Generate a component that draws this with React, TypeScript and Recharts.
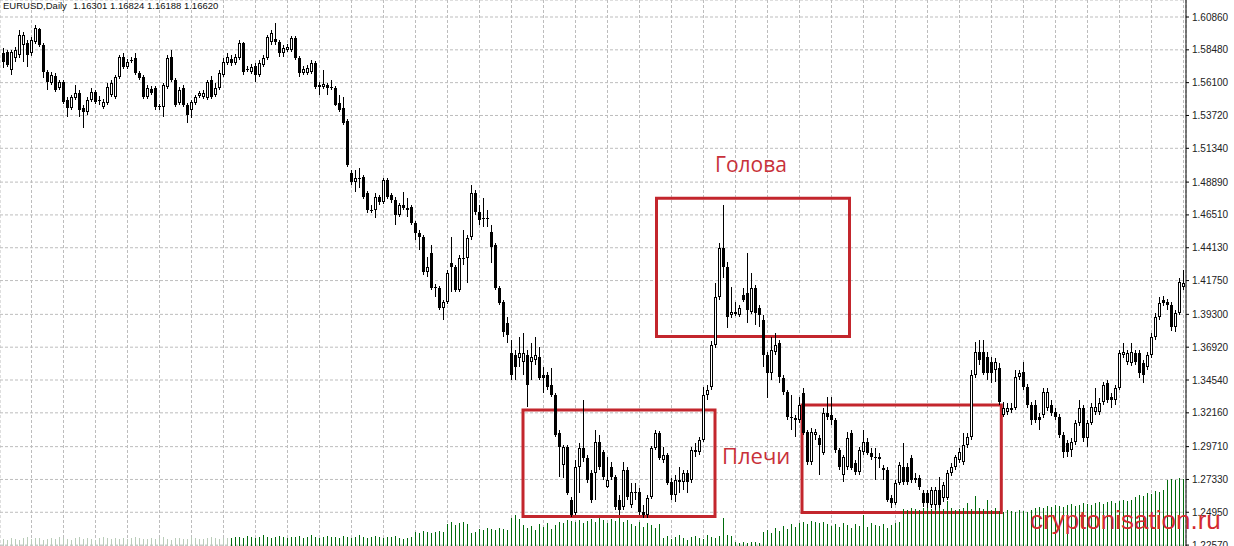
import { ComposedChart, Bar, XAxis, YAxis, CartesianGrid, ReferenceArea } from "recharts"

// EURUSD daily candles (oldest first)
const opens = [
  1.5825, 1.5832, 1.5702, 1.5789, 1.5810, 1.5883, 1.5897, 1.5825, 1.5905, 1.5999,
  1.5883, 1.5687, 1.5607, 1.5658, 1.5571, 1.5615, 1.5484, 1.5426, 1.5499, 1.5535,
  1.5426, 1.5397, 1.5484, 1.5542, 1.5484, 1.5433, 1.5462, 1.5520, 1.5506, 1.5651,
  1.5796, 1.5723, 1.5774, 1.5789, 1.5680, 1.5651, 1.5506, 1.5564, 1.5571, 1.5441,
  1.5433, 1.5578, 1.5796, 1.5629, 1.5462, 1.5571, 1.5448, 1.5412, 1.5462, 1.5513,
  1.5506, 1.5499, 1.5629, 1.5520, 1.5571, 1.5665, 1.5752, 1.5781, 1.5752, 1.5789,
  1.5897, 1.5709, 1.5687, 1.5731, 1.5665, 1.5738, 1.5789, 1.5905, 1.5926, 1.5905,
  1.5825, 1.5847, 1.5847, 1.5934, 1.5789, 1.5680, 1.5680, 1.5687, 1.5752, 1.5593,
  1.5578, 1.5593, 1.5578, 1.5571, 1.5462, 1.5426, 1.5332, 1.4955, 1.4890, 1.4919,
  1.4926, 1.4810, 1.4687, 1.4687, 1.4781, 1.4745, 1.4904, 1.4795, 1.4759, 1.4650,
  1.4723, 1.4701, 1.4708, 1.4592, 1.4520, 1.4491, 1.4237, 1.4375, 1.4128, 1.4121,
  1.3976, 1.4020, 1.4302, 1.4273, 1.4107, 1.4339, 1.4339, 1.4491, 1.4810, 1.4672,
  1.4629, 1.4629, 1.4527, 1.4433, 1.4121, 1.4020, 1.3867, 1.3650, 1.3635, 1.3614,
  1.3585, 1.3635, 1.3585, 1.3599, 1.3621, 1.3490, 1.3490, 1.3418, 1.3345, 1.3070,
  1.2838, 1.2968, 1.2584, 1.2490, 1.2823, 1.2961, 1.2889, 1.2780, 1.2780, 1.3005,
  1.2932, 1.2678, 1.2823, 1.2751, 1.2584, 1.2533, 1.2802, 1.2548, 1.2642, 1.2642,
  1.2497, 1.2475, 1.2606, 1.2961, 1.3070, 1.2874, 1.2910, 1.2715, 1.2620, 1.2729,
  1.2715, 1.2780, 1.2729, 1.2932, 1.2932, 1.3019, 1.3345, 1.3403, 1.3708, 1.4056,
  1.4411, 1.4273, 1.3925, 1.3940, 1.3925, 1.4070, 1.4085, 1.3947, 1.4121, 1.3976,
  1.3889, 1.3635, 1.3505, 1.3657, 1.3722, 1.3469, 1.3367, 1.3186, 1.3179, 1.3164,
  1.3360, 1.3077, 1.2860, 1.3055, 1.3034, 1.2925, 1.3215, 1.3200, 1.3164, 1.2947,
  1.2765, 1.2823, 1.3070, 1.2852, 1.2787, 1.2932, 1.3005, 1.2925, 1.2896, 1.2896,
  1.2816, 1.2802, 1.2599, 1.2562, 1.2707, 1.2823, 1.2823, 1.2889, 1.2744, 1.2744,
  1.2635, 1.2635, 1.2548, 1.2548, 1.2657, 1.2599, 1.2599, 1.2780, 1.2823, 1.2874,
  1.2860, 1.2983, 1.3041, 1.3490, 1.3657, 1.3657, 1.3621, 1.3585, 1.3527, 1.3541,
  1.3200, 1.3222, 1.3251, 1.3251, 1.3476, 1.3512, 1.3403, 1.3273, 1.3273, 1.3186,
  1.3200, 1.3251, 1.3273, 1.3222, 1.3186, 1.3055, 1.2997, 1.2947, 1.3005, 1.3142,
  1.3251, 1.3034, 1.3142, 1.3222, 1.3222, 1.3295, 1.3432, 1.3331, 1.3309, 1.3396,
  1.3635, 1.3585, 1.3577, 1.3650, 1.3650, 1.3577, 1.3548, 1.3635, 1.3766, 1.3911,
  1.4034, 1.4020, 1.3998, 1.3838, 1.3940, 1.4128,
]

const highs = [
  1.5861, 1.5847, 1.5847, 1.5868, 1.5992, 1.5977, 1.5919, 1.5941, 1.6028, 1.6006,
  1.5897, 1.5702, 1.5687, 1.5680, 1.5629, 1.5629, 1.5506, 1.5520, 1.5593, 1.5557,
  1.5448, 1.5506, 1.5571, 1.5557, 1.5513, 1.5491, 1.5607, 1.5629, 1.5665, 1.5810,
  1.5825, 1.5781, 1.5796, 1.5825, 1.5694, 1.5665, 1.5593, 1.5586, 1.5586, 1.5455,
  1.5607, 1.5810, 1.5847, 1.5644, 1.5578, 1.5593, 1.5462, 1.5484, 1.5520, 1.5549,
  1.5557, 1.5629, 1.5658, 1.5607, 1.5702, 1.5789, 1.5825, 1.5810, 1.5818, 1.5919,
  1.5905, 1.5731, 1.5745, 1.5752, 1.5774, 1.5810, 1.5955, 1.5992, 1.6042, 1.5919,
  1.5883, 1.5890, 1.5948, 1.5948, 1.5803, 1.5731, 1.5738, 1.5774, 1.5767, 1.5615,
  1.5702, 1.5607, 1.5629, 1.5586, 1.5520, 1.5506, 1.5346, 1.4977, 1.4977, 1.4991,
  1.4940, 1.4824, 1.4723, 1.4810, 1.4795, 1.4919, 1.4919, 1.4810, 1.4781, 1.4737,
  1.4817, 1.4774, 1.4723, 1.4607, 1.4542, 1.4505, 1.4346, 1.4433, 1.4150, 1.4136,
  1.4034, 1.4252, 1.4491, 1.4288, 1.4360, 1.4542, 1.4505, 1.4868, 1.4832, 1.4723,
  1.4774, 1.4687, 1.4578, 1.4447, 1.4136, 1.4034, 1.3911, 1.3744, 1.3672, 1.3766,
  1.3795, 1.3672, 1.3722, 1.3766, 1.3693, 1.3548, 1.3512, 1.3541, 1.3360, 1.3092,
  1.2983, 1.2983, 1.2606, 1.2874, 1.2997, 1.3309, 1.2910, 1.2802, 1.3092, 1.3055,
  1.2947, 1.2896, 1.2860, 1.2765, 1.2620, 1.2860, 1.2823, 1.2707, 1.2707, 1.2671,
  1.2548, 1.2620, 1.2976, 1.3092, 1.3084, 1.2968, 1.2925, 1.2744, 1.2765, 1.2823,
  1.2802, 1.2802, 1.2968, 1.2997, 1.3041, 1.3403, 1.3418, 1.3737, 1.4157, 1.4447,
  1.4723, 1.4310, 1.4128, 1.4020, 1.3998, 1.4121, 1.4375, 1.4230, 1.4143, 1.3998,
  1.3925, 1.3657, 1.3766, 1.3795, 1.3744, 1.3490, 1.3382, 1.3345, 1.3200, 1.3331,
  1.3396, 1.3092, 1.3106, 1.3099, 1.3055, 1.3251, 1.3331, 1.3331, 1.3179, 1.2961,
  1.2910, 1.3077, 1.3092, 1.2874, 1.2968, 1.3092, 1.3034, 1.2961, 1.2961, 1.2925,
  1.2838, 1.2823, 1.2620, 1.2729, 1.2860, 1.2997, 1.2852, 1.2910, 1.2780, 1.2765,
  1.2657, 1.2657, 1.2678, 1.2678, 1.2751, 1.2715, 1.2802, 1.2852, 1.2910, 1.2961,
  1.3070, 1.3070, 1.3527, 1.3730, 1.3744, 1.3744, 1.3657, 1.3621, 1.3614, 1.3577,
  1.3295, 1.3287, 1.3287, 1.3527, 1.3527, 1.3585, 1.3425, 1.3295, 1.3309, 1.3215,
  1.3396, 1.3396, 1.3309, 1.3251, 1.3208, 1.3077, 1.3019, 1.3034, 1.3164, 1.3309,
  1.3273, 1.3164, 1.3287, 1.3396, 1.3324, 1.3440, 1.3454, 1.3360, 1.3418, 1.3672,
  1.3722, 1.3672, 1.3722, 1.3672, 1.3672, 1.3599, 1.3657, 1.3795, 1.3940, 1.4056,
  1.4063, 1.4041, 1.4020, 1.3962, 1.4194, 1.4252,
]

const lows = [
  1.5716, 1.5723, 1.5665, 1.5760, 1.5789, 1.5760, 1.5723, 1.5803, 1.5890, 1.5868,
  1.5644, 1.5557, 1.5593, 1.5542, 1.5557, 1.5455, 1.5361, 1.5412, 1.5484, 1.5361,
  1.5281, 1.5375, 1.5470, 1.5455, 1.5448, 1.5419, 1.5448, 1.5506, 1.5491, 1.5636,
  1.5709, 1.5709, 1.5752, 1.5665, 1.5629, 1.5491, 1.5491, 1.5520, 1.5412, 1.5412,
  1.5361, 1.5564, 1.5615, 1.5433, 1.5448, 1.5433, 1.5317, 1.5354, 1.5448, 1.5499,
  1.5491, 1.5484, 1.5491, 1.5506, 1.5557, 1.5651, 1.5738, 1.5731, 1.5738, 1.5774,
  1.5665, 1.5687, 1.5673, 1.5615, 1.5651, 1.5723, 1.5774, 1.5883, 1.5883, 1.5796,
  1.5796, 1.5832, 1.5832, 1.5774, 1.5651, 1.5665, 1.5665, 1.5673, 1.5564, 1.5520,
  1.5564, 1.5520, 1.5557, 1.5441, 1.5397, 1.5303, 1.4998, 1.4868, 1.4817, 1.4846,
  1.4766, 1.4665, 1.4665, 1.4629, 1.4723, 1.4730, 1.4766, 1.4737, 1.4578, 1.4636,
  1.4687, 1.4636, 1.4578, 1.4469, 1.4397, 1.4215, 1.4201, 1.4107, 1.4056, 1.3962,
  1.3889, 1.4005, 1.4092, 1.4092, 1.4092, 1.4288, 1.4157, 1.4469, 1.4650, 1.4578,
  1.4563, 1.4563, 1.4302, 1.4107, 1.3998, 1.3766, 1.3722, 1.3454, 1.3454, 1.3548,
  1.3490, 1.3258, 1.3454, 1.3563, 1.3454, 1.3360, 1.3382, 1.3331, 1.3041, 1.2751,
  1.2744, 1.2620, 1.2461, 1.2475, 1.2635, 1.2860, 1.2707, 1.2562, 1.2584, 1.2802,
  1.2729, 1.2671, 1.2729, 1.2512, 1.2475, 1.2512, 1.2584, 1.2526, 1.2584, 1.2475,
  1.2454, 1.2454, 1.2591, 1.2947, 1.2874, 1.2852, 1.2693, 1.2584, 1.2570, 1.2635,
  1.2657, 1.2635, 1.2707, 1.2896, 1.2910, 1.3005, 1.3309, 1.3382, 1.3686, 1.4034,
  1.4194, 1.3831, 1.3904, 1.3918, 1.3911, 1.4020, 1.3867, 1.3933, 1.3853, 1.3838,
  1.3548, 1.3324, 1.3454, 1.3635, 1.3432, 1.3345, 1.3164, 1.3092, 1.3041, 1.3142,
  1.3055, 1.2838, 1.2838, 1.3019, 1.2765, 1.2910, 1.3164, 1.3128, 1.2925, 1.2802,
  1.2715, 1.2802, 1.2802, 1.2765, 1.2765, 1.2910, 1.2910, 1.2874, 1.2729, 1.2816,
  1.2729, 1.2570, 1.2526, 1.2548, 1.2693, 1.2693, 1.2693, 1.2707, 1.2707, 1.2657,
  1.2533, 1.2526, 1.2526, 1.2512, 1.2526, 1.2570, 1.2584, 1.2758, 1.2802, 1.2852,
  1.2838, 1.2961, 1.3019, 1.3469, 1.3563, 1.3490, 1.3454, 1.3432, 1.3440, 1.3273,
  1.3186, 1.3200, 1.3215, 1.3237, 1.3454, 1.3382, 1.3251, 1.3128, 1.3142, 1.3092,
  1.3179, 1.3229, 1.3193, 1.3164, 1.3034, 1.2889, 1.2896, 1.2896, 1.2983, 1.3121,
  1.3005, 1.2968, 1.3128, 1.3200, 1.3200, 1.3273, 1.3287, 1.3251, 1.3273, 1.3382,
  1.3614, 1.3563, 1.3556, 1.3563, 1.3469, 1.3432, 1.3527, 1.3614, 1.3744, 1.3889,
  1.3991, 1.3962, 1.3809, 1.3802, 1.3925, 1.4107,
]

const closes = [
  1.5760, 1.5738, 1.5832, 1.5847, 1.5955, 1.5955, 1.5810, 1.5919, 1.6006, 1.5883,
  1.5687, 1.5615, 1.5665, 1.5557, 1.5615, 1.5470, 1.5426, 1.5506, 1.5535, 1.5412,
  1.5397, 1.5484, 1.5542, 1.5470, 1.5477, 1.5470, 1.5578, 1.5607, 1.5651, 1.5796,
  1.5723, 1.5760, 1.5767, 1.5680, 1.5644, 1.5506, 1.5571, 1.5535, 1.5433, 1.5433,
  1.5593, 1.5789, 1.5629, 1.5448, 1.5557, 1.5448, 1.5375, 1.5470, 1.5506, 1.5535,
  1.5535, 1.5615, 1.5506, 1.5571, 1.5680, 1.5760, 1.5796, 1.5752, 1.5796, 1.5897,
  1.5687, 1.5702, 1.5723, 1.5665, 1.5752, 1.5789, 1.5941, 1.5970, 1.5905, 1.5825,
  1.5861, 1.5868, 1.5934, 1.5789, 1.5680, 1.5709, 1.5716, 1.5752, 1.5578, 1.5578,
  1.5600, 1.5571, 1.5571, 1.5448, 1.5412, 1.5317, 1.5013, 1.4890, 1.4919, 1.4911,
  1.4781, 1.4687, 1.4679, 1.4781, 1.4745, 1.4904, 1.4781, 1.4759, 1.4650, 1.4723,
  1.4701, 1.4687, 1.4592, 1.4520, 1.4491, 1.4237, 1.4273, 1.4121, 1.4121, 1.3976,
  1.4020, 1.4230, 1.4273, 1.4107, 1.4339, 1.4331, 1.4484, 1.4810, 1.4672, 1.4614,
  1.4621, 1.4621, 1.4418, 1.4121, 1.4012, 1.3802, 1.3780, 1.3490, 1.3548, 1.3650,
  1.3650, 1.3418, 1.3621, 1.3635, 1.3469, 1.3469, 1.3403, 1.3345, 1.3055, 1.2968,
  1.2968, 1.2635, 1.2475, 1.2823, 1.2961, 1.2889, 1.2729, 1.2584, 1.3005, 1.2823,
  1.2751, 1.2729, 1.2751, 1.2533, 1.2512, 1.2802, 1.2606, 1.2642, 1.2635, 1.2497,
  1.2475, 1.2599, 1.2961, 1.3070, 1.2889, 1.2910, 1.2707, 1.2620, 1.2729, 1.2715,
  1.2780, 1.2715, 1.2947, 1.2947, 1.3019, 1.3345, 1.3382, 1.3708, 1.4056, 1.4411,
  1.4273, 1.3911, 1.3947, 1.3947, 1.3976, 1.4034, 1.3962, 1.4121, 1.3940, 1.3925,
  1.3635, 1.3505, 1.3672, 1.3708, 1.3476, 1.3367, 1.3186, 1.3179, 1.3164, 1.3273,
  1.3070, 1.2860, 1.3077, 1.3077, 1.2983, 1.3215, 1.3186, 1.3164, 1.2947, 1.2823,
  1.2896, 1.3034, 1.2816, 1.2787, 1.2947, 1.3005, 1.2925, 1.2896, 1.2889, 1.2881,
  1.2802, 1.2584, 1.2562, 1.2707, 1.2838, 1.2715, 1.2715, 1.2729, 1.2729, 1.2678,
  1.2562, 1.2562, 1.2657, 1.2657, 1.2548, 1.2693, 1.2780, 1.2823, 1.2896, 1.2932,
  1.2983, 1.3041, 1.3490, 1.3657, 1.3599, 1.3505, 1.3505, 1.3505, 1.3585, 1.3295,
  1.3251, 1.3251, 1.3237, 1.3476, 1.3505, 1.3403, 1.3273, 1.3164, 1.3164, 1.3164,
  1.3367, 1.3367, 1.3215, 1.3186, 1.3055, 1.2932, 1.2932, 1.3005, 1.3142, 1.3251,
  1.3034, 1.3142, 1.3258, 1.3258, 1.3287, 1.3418, 1.3309, 1.3309, 1.3396, 1.3650,
  1.3657, 1.3650, 1.3657, 1.3585, 1.3505, 1.3490, 1.3635, 1.3766, 1.3911, 1.4012,
  1.4012, 1.3998, 1.3838, 1.3940, 1.4165, 1.4157,
]

// tick volume, hundreds of ticks
const volumes = [
  7, 6, 8, 7, 6, 8, 9, 7, 8, 8, 6, 7, 8, 7, 9, 8, 7, 6, 8, 9,
  7, 8, 7, 6, 8, 9, 8, 7, 8, 7, 8, 7, 8, 9, 8, 7, 7, 8, 7, 8,
  9, 7, 6, 8, 8, 7, 7, 9, 8, 7, 7, 8, 9, 8, 7, 8, 8,
  8, 9, 9, 8, 10, 9, 8, 9, 11, 9, 8, 9, 10, 9, 8, 9, 9, 10, 8, 9,
  11, 9, 8, 9, 10, 9, 9, 8, 10, 9, 8, 9, 11, 9, 8, 9, 10, 9, 8, 9,
  9, 10, 8,
  7, 8, 9,
  14, 13, 15, 14, 13, 14, 15, 14,
  22, 24, 21, 23, 24, 22,
  13, 14,
  17, 16, 18, 17, 16, 18, 17, 16,
  28, 31, 27, 21,
  18, 20, 16, 22, 19, 23, 17, 21,
  24, 23, 26, 25, 24, 26, 23,
  25, 27, 24, 28, 26, 23, 27, 25, 28, 24, 26,
  22, 20, 24, 19, 23, 21, 18, 22,
  8, 10, 7, 9, 11, 8, 6, 9, 10, 8, 7, 11, 9, 8, 10,
  28,
  11, 10,
  4, 3, 4, 3, 4, 4, 3,
  14, 16, 13, 18, 15, 20, 17, 22, 19,
  23, 24, 22, 25, 24, 23, 24, 22,
  20, 22, 19, 23, 21, 18, 22, 20, 31, 19, 23, 21, 20, 22, 18, 21, 23, 24,
  37, 36, 38, 37, 36, 38, 44, 37, 36, 38, 37, 45, 38, 36, 37, 38, 43, 37, 50, 38, 37, 46, 36, 38,
  35, 34, 36, 35, 34, 36, 35, 34, 36,
  38, 39, 38, 40, 39, 41, 40, 39, 41, 42, 40, 41, 43, 42, 41, 43, 44, 42, 44, 45, 43, 45, 46, 45, 46,
  49, 51, 50, 53, 52, 55, 54, 56,
  66, 67, 66, 68, 67,
]

const priceTicks = [
  1.6086, 1.5848, 1.561, 1.5372, 1.5134, 1.4889, 1.4651, 1.4413, 1.4175,
  1.393, 1.3692, 1.3454, 1.3216, 1.2971, 1.2733, 1.2495, 1.2257,
]

// head & shoulders annotation boxes: candle index span, price span
const boxes = [
  { from: 129.875, to: 177.875, top: 1.32368, bottom: 1.24647 },
  { from: 163.25, to: 211.5, top: 1.47716, bottom: 1.37697 },
  { from: 199.625, to: 249.45, top: 1.32731, bottom: 1.24937 },
]

const quote = ["1.16301", "1.16824", "1.16188", "1.16620"]

const candles = opens.map((open, i) => ({
  idx: i,
  open,
  high: highs[i],
  low: lows[i],
  close: closes[i],
  range: [lows[i], highs[i]],
  volume: volumes[i],
}))

const X_DOMAIN = [-0.875, 295.625]
const gridTicks = Array.from({ length: 37 }, (_, k) => 7 + 8 * k)
const FADED_BARS = 57
const RED = "#c3262d"

const Candle = (props: any) => {
  const { x, y, width, height, payload } = props
  if (!payload || height == null) return null
  const top = Math.min(y, y + height)
  const span = Math.abs(height)
  const { open, close, high, low } = payload
  const k = high > low ? span / (high - low) : 0
  const toY = (v: number) => top + (high - v) * k
  const cx = Math.floor(x + width / 2) + 0.5
  const yHigh = Math.round(toY(high))
  const yLow = Math.round(toY(low))
  const bTop = Math.round(toY(Math.max(open, close)))
  const bBot = Math.round(toY(Math.min(open, close)))

  return (
    <g>
      <line x1={cx} x2={cx} y1={yHigh} y2={yLow} stroke="#000" strokeWidth={1} />
      {close > open ? (
        <rect
          x={cx - 1}
          y={bTop + 0.5}
          width={2}
          height={Math.max(bBot - bTop - 1, 1)}
          fill="#fff"
          stroke="#000"
          strokeWidth={1}
        />
      ) : (
        <rect x={cx - 1.5} y={bTop} width={3} height={Math.max(bBot - bTop, 1)} fill="#000" />
      )}
    </g>
  )
}

const VolumeBar = (props: any) => {
  const { x, y, width, height, payload } = props
  if (height == null || !payload) return null
  const cx = Math.floor(x + width / 2) + 0.5
  const faded = payload.idx < FADED_BARS
  return (
    <line
      x1={cx}
      x2={cx}
      y1={Math.round(y)}
      y2={546}
      stroke={faded ? "#b9ccb9" : "#006b0c"}
      strokeWidth={1}
      shapeRendering="crispEdges"
    />
  )
}

export default function App() {
  return (
    <div
      style={{
        position: "absolute",
        left: 0,
        top: 0,
        width: 1234,
        height: 546,
        background: "#fff",
        overflow: "hidden",
      }}
    >
      <ComposedChart
        width={1234}
        height={546}
        data={candles}
        margin={{ top: 0, right: 0, bottom: 0, left: 0 }}
      >
        <CartesianGrid
          xAxisId="x"
          yAxisId="price"
          stroke="#bdbdbd"
          strokeDasharray="3 2"
        />

        <XAxis
          xAxisId="x"
          dataKey="idx"
          type="number"
          domain={X_DOMAIN}
          ticks={gridTicks}
          allowDataOverflow
          hide
        />
        <XAxis
          xAxisId="xv"
          dataKey="idx"
          type="number"
          domain={X_DOMAIN}
          allowDataOverflow
          hide
        />

        <YAxis
          yAxisId="price"
          orientation="right"
          width={48}
          domain={[1.22505, 1.62093]}
          ticks={priceTicks}
          interval={0}
          allowDataOverflow
          tickFormatter={(v: number) => v.toFixed(5)}
          axisLine={{ stroke: "#000" }}
          tickLine={{ stroke: "#000" }}
          tickSize={3}
          tickMargin={3}
          tick={{ fontSize: 10, fill: "#222", fontFamily: "Liberation Sans" }}
        />
        <YAxis yAxisId="vol" domain={[0, 546]} hide />

        <Bar
          xAxisId="xv"
          yAxisId="vol"
          dataKey="volume"
          barSize={1}
          shape={VolumeBar}
          isAnimationActive={false}
        />

        <Bar
          xAxisId="x"
          yAxisId="price"
          dataKey="range"
          barSize={4}
          shape={Candle}
          isAnimationActive={false}
        />

        {boxes.map((b, i) => (
          <ReferenceArea
            key={i}
            xAxisId="x"
            yAxisId="price"
            x1={b.from}
            x2={b.to}
            y1={b.bottom}
            y2={b.top}
            fill="none"
            fillOpacity={0}
            stroke={RED}
            strokeWidth={3}
            ifOverflow="visible"
          />
        ))}
      </ComposedChart>

      <svg
        width={1234}
        height={546}
        style={{ position: "absolute", left: 0, top: 0, pointerEvents: "none" }}
      >
        <text x={3} y={9} fontFamily="Liberation Sans" fontSize={9.5} fill="#111">
          EURUSD,Daily
        </text>
        <text
          x={73}
          y={9}
          fontFamily="Liberation Sans"
          fontSize={9.5}
          fill="#111"
          style={{ whiteSpace: "pre" }}
        >
          {quote.join(" ")}
        </text>

        <text x={715} y={172} fontFamily="Open Sans" fontSize={21} fill="#c8313a">
          Голова
        </text>
        <text x={722} y={464} fontFamily="Open Sans" fontSize={22} fill="#c8313a">
          Плечи
        </text>

        <text
          x={1030}
          y={529}
          fontFamily="Liberation Sans"
          fontSize={26}
          fill="#d42a30"
        >
          cryptonisation.ru
        </text>
      </svg>
    </div>
  )
}
